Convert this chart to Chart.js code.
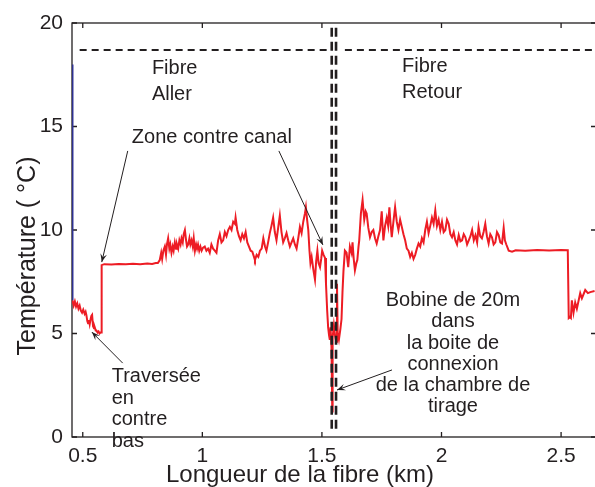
<!DOCTYPE html>
<html><head><meta charset="utf-8">
<script src="https://cdn.jsdelivr.net/npm/chart.js@4.4.0/dist/chart.umd.min.js"></script>
<style>
html,body{margin:0;padding:0;overflow:hidden;background:#fff;width:595px;height:487px}
#wrap{width:600px;height:487px}
</style>
</head><body><div id="wrap"><canvas id="c" width="600" height="487"></canvas></div>
<script>
// ---- data (distance along fibre in km, temperature in °C) ----
const fiberKm = [
 0.457,0.462,0.467,0.472,0.477,0.482,0.487,0.492,0.497,0.502,
 0.508,0.512,0.515,0.519,0.522,0.526,0.529,0.533,0.536,0.539,
 0.543,0.547,0.550,0.554,0.557,0.562,0.566,0.570,0.574,0.577,
 0.579,0.59,0.62,0.65,0.68,0.71,0.74,0.77,0.79,0.805,
 0.814,0.822,0.828,0.832,0.837,0.843,0.848,0.852,0.857,0.862,
 0.866,0.871,0.876,0.880,0.885,0.890,0.894,0.899,0.904,0.909,
 0.913,0.918,0.922,0.927,0.932,0.936,0.941,0.946,0.950,0.955,
 0.960,0.964,0.969,0.974,0.978,0.982,0.987,0.992,0.997,1.003,
 1.010,1.017,1.024,1.031,1.038,1.045,1.052,1.059,1.066,1.073,
 1.080,1.087,1.094,1.101,1.108,1.115,1.122,1.129,1.136,1.139,
 1.146,1.153,1.160,1.167,1.174,1.181,1.188,1.195,1.202,1.209,
 1.216,1.220,1.227,1.234,1.241,1.248,1.255,1.262,1.268,1.275,
 1.282,1.289,1.296,1.303,1.310,1.317,1.324,1.331,1.338,1.345,
 1.352,1.359,1.366,1.373,1.380,1.387,1.394,1.401,1.408,1.415,
 1.422,1.429,1.433,1.438,1.443,1.448,1.452,1.457,1.464,1.471,
 1.476,1.481,1.486,1.492,1.497,1.501,1.507,1.513,1.517,1.522,
 1.526,1.530,1.533,1.536,1.540,1.543,1.5435,1.546,1.550,1.555,
 1.560,1.563,1.566,1.571,1.577,1.582,1.586,1.590,1.596,1.603,
 1.610,1.617,1.624,1.628,1.633,1.638,1.644,1.648,1.653,1.656,
 1.663,1.670,1.677,1.683,1.687,1.694,1.701,1.708,1.715,1.722,
 1.729,1.736,
 1.743,1.750,1.757,1.764,1.771,1.777,1.782,1.787,1.792,1.799,
 1.806,1.813,1.820,1.827,1.834,1.841,1.848,1.855,1.862,1.869,
 1.876,1.883,1.890,1.897,1.904,1.911,1.918,1.925,1.932,1.939,
 1.946,1.953,1.960,1.967,1.974,1.981,1.988,1.995,2.002,2.009,
 2.016,2.023,2.030,2.037,2.044,2.051,2.058,2.065,2.072,2.079,
 2.086,2.093,2.100,2.107,2.114,2.121,2.128,2.135,2.142,2.149,
 2.155,2.162,2.169,2.176,2.183,2.190,2.197,2.204,2.211,2.218,
 2.225,2.232,2.239,2.246,2.253,2.260,2.265,2.271,2.281,2.295,
 2.31,2.35,2.40,2.45,2.50,2.528,2.532,2.537,2.541,2.545,
 2.552,2.559,2.566,2.580,2.587,2.601,2.612,2.622,2.64
];
const tempC = [
 6.6,6.35,6.55,6.3,6.45,6.2,6.35,6.1,6.0,6.15,
 5.95,6.05,5.9,5.6,5.5,5.65,5.45,5.7,5.85,5.9,
 5.35,5.25,5.3,5.15,5.15,5.05,5.1,5.0,5.05,5.05,
 8.3,8.35,8.33,8.36,8.34,8.37,8.35,8.38,8.36,8.4,
 8.4,8.55,8.9,8.6,9.0,9.2,8.8,9.3,9.6,9.1,
 9.3,8.9,9.2,9.0,9.4,9.1,9.3,9.1,9.5,9.3,
 9.6,9.4,9.8,10.0,9.5,9.2,9.3,9.6,9.3,9.5,
 9.2,9.6,9.0,9.3,9.1,9.3,9.0,9.2,9.0,9.15,
 9.2,9.0,9.1,8.9,9.3,9.1,9.0,8.9,9.5,9.8,
 9.4,9.5,9.9,9.7,10.0,10.15,10.0,10.4,10.3,10.6,
 10.0,9.7,9.5,9.8,9.6,9.9,9.4,9.2,9.0,8.95,
 8.7,8.55,8.8,8.7,9.0,9.1,9.6,9.2,9.0,9.4,
 9.85,10.2,10.6,9.9,9.5,10.1,10.7,9.9,9.4,9.6,
 9.85,9.5,9.2,9.4,9.6,9.3,9.1,9.6,10.15,9.85,
 10.4,10.8,11.1,10.5,10.0,9.0,8.4,8.7,8.1,7.6,
 8.5,9.0,8.4,8.2,8.6,9.0,8.8,8.65,7.4,6.1,
 5.3,4.9,4.7,5.3,4.35,1.45,1.4,4.8,5.4,4.9,
 4.6,7.4,5.0,4.7,5.2,5.7,7.0,8.0,9.0,8.9,
 8.2,9.2,8.9,9.4,8.6,8.05,8.4,8.55,9.2,9.5,
 10.8,11.45,10.5,10.9,10.8,10.1,9.65,9.9,10.0,9.6,
 9.35,9.7,
 10.0,10.9,9.5,10.2,10.6,10.2,11.1,10.3,9.65,10.4,
 11.1,10.4,10.0,10.5,10.15,9.8,9.5,9.1,9.0,8.7,
 8.9,8.6,8.8,9.1,9.35,9.2,9.6,9.4,10.0,10.4,
 9.85,10.2,10.6,10.3,10.95,10.2,10.5,10.0,10.4,9.9,
 10.0,10.5,10.3,9.8,9.65,9.9,9.5,9.3,9.75,9.45,
 9.5,9.8,9.65,9.3,9.5,9.7,10.0,9.5,9.75,9.4,
 10.15,9.7,9.6,9.9,10.3,9.7,9.35,9.8,9.65,9.3,
 9.4,9.9,9.75,9.4,9.35,10.1,9.5,9.3,9.0,8.95,
 9.02,9.0,9.03,9.01,9.03,9.02,5.75,5.8,5.75,6.6,
 6.0,6.5,6.2,6.95,6.7,7.1,6.95,7.0,7.05
];
const leadInKm = [0.457, 0.457];
const leadInC = [18.0, 6.6];
const xTicks = [0.5, 1, 1.5, 2, 2.5];
const yTicks = [0, 5, 10, 15, 20];
const markerLevelC = 18.7;
const allerSpanKm = [0.487, 1.525];
const retourSpanKm = [1.596, 2.66];
const spliceKm = [1.541, 1.559];
const spliceSpanC = [0.4, 19.8];

const notes = [
  {lines:['Fibre','Aller'], km:0.789, c:17.54, lh:26, align:'left'},
  {lines:['Fibre','Retour'], km:1.835, c:17.63, lh:26, align:'left'},
  {lines:['Zone contre canal'], km:0.705, c:14.2, lh:22, align:'left'},
  {lines:['Traversée','en','contre','bas'], km:0.621, c:2.66, lh:21.7, align:'left'},
  {lines:['Bobine de 20m','dans','la boite de','connexion','de la chambre de','tirage'], km:2.048, c:6.33, lh:21.3, align:'center'}
];
const arrows = [
  {from:[0.688,13.82], to:[0.5795,8.45]},
  {from:[1.320,13.82], to:[1.504,9.28]},
  {from:[0.667,3.57], to:[0.538,5.07]},
  {from:[1.793,3.24], to:[1.563,2.27]}
];

const ink = '#231f20';
const FONT = '"Liberation Sans", Arial, Helvetica, sans-serif';
const pts = (xs, ys) => xs.map((v, i) => ({x: v, y: ys[i]}));

const framePlugin = {
  id: 'frame',
  beforeDatasetsDraw(chart) {
    const {ctx, chartArea: a, scales: {x, y}} = chart;
    ctx.save();
    ctx.strokeStyle = ink; ctx.lineWidth = 1.3;
    ctx.strokeRect(a.left, a.top, a.right - a.left, a.bottom - a.top);
    ctx.beginPath();
    x.ticks.forEach(t => { const p = x.getPixelForValue(t.value);
      ctx.moveTo(p, a.bottom); ctx.lineTo(p, a.bottom - 5);
      ctx.moveTo(p, a.top); ctx.lineTo(p, a.top + 5); });
    y.ticks.forEach(t => { const p = y.getPixelForValue(t.value);
      ctx.moveTo(a.left, p); ctx.lineTo(a.left + 5, p);
      ctx.moveTo(a.right, p); ctx.lineTo(a.right - 5, p); });
    ctx.stroke();
    ctx.restore();
  },
  afterDatasetsDraw(chart) {
    const {ctx, scales: {x, y}} = chart;
    ctx.save();
    ctx.fillStyle = ink;
    ctx.font = '20px ' + FONT;
    ctx.textBaseline = 'alphabetic';
    notes.forEach(n => {
      const px = x.getPixelForValue(n.km), py = y.getPixelForValue(n.c);
      ctx.textAlign = n.align;
      n.lines.forEach((s, i) => ctx.fillText(s, px, py + i * n.lh));
    });
    ctx.strokeStyle = ink; ctx.lineWidth = 1;
    arrows.forEach(a => {
      const x0 = x.getPixelForValue(a.from[0]), y0 = y.getPixelForValue(a.from[1]);
      const x1 = x.getPixelForValue(a.to[0]), y1 = y.getPixelForValue(a.to[1]);
      const ang = Math.atan2(y1 - y0, x1 - x0);
      ctx.beginPath(); ctx.moveTo(x0, y0); ctx.lineTo(x1, y1); ctx.stroke();
      const L = 9, W = 0.38;
      ctx.beginPath();
      ctx.moveTo(x1, y1);
      ctx.lineTo(x1 - L * Math.cos(ang - W), y1 - L * Math.sin(ang - W));
      ctx.lineTo(x1 - 0.55 * L * Math.cos(ang), y1 - 0.55 * L * Math.sin(ang));
      ctx.lineTo(x1 - L * Math.cos(ang + W), y1 - L * Math.sin(ang + W));
      ctx.closePath(); ctx.fill();
    });
    // axis titles
    ctx.font = '24px ' + FONT;
    ctx.textAlign = 'center';
    ctx.fillText('Longueur de la fibre (km)', 300, 482);
    ctx.font = '25px ' + FONT;
    ctx.translate(35, 256);
    ctx.rotate(-Math.PI / 2);
    ctx.fillText('Température ( °C)', 0, 0);
    ctx.restore();
  }
};

new Chart(document.getElementById('c'), {
  type: 'scatter',
  data: {
    datasets: [
      {data: pts(spliceKm.slice(0,1).concat(spliceKm.slice(0,1)), spliceSpanC), showLine: true, borderColor: ink, borderWidth: 2.6, borderDash: [9, 5], order: 0},
      {data: pts(spliceKm.slice(1).concat(spliceKm.slice(1)), spliceSpanC), showLine: true, borderColor: ink, borderWidth: 2.6, borderDash: [9, 5], order: 0},
      {data: pts(allerSpanKm, [markerLevelC, markerLevelC]), showLine: true, borderColor: ink, borderWidth: 2, borderDash: [7, 5], order: 0},
      {data: pts(retourSpanKm, [markerLevelC, markerLevelC]), showLine: true, borderColor: ink, borderWidth: 2, borderDash: [7, 5], order: 0},
      {data: pts(fiberKm, tempC), showLine: true, borderColor: '#ed1c24', borderWidth: 2, order: 1},
      {data: pts(leadInKm, leadInC), showLine: true, borderColor: '#2e3192', borderWidth: 2, order: 2}
    ]
  },
  options: {
    responsive: false, animation: false,
    layout: {padding: {top: 23, right: 4, left: 0, bottom: 0}},
    plugins: {legend: {display: false}, tooltip: {enabled: false}},
    elements: {point: {radius: 0, hoverRadius: 0}, line: {tension: 0}},
    scales: {
      x: {
        type: 'linear', min: 0.455, max: 2.646,
        afterBuildTicks: s => { s.ticks = xTicks.map(v => ({value: v})); },
        afterFit: s => { s.height = 50; },
        grid: {display: false, drawTicks: false}, border: {display: false},
        ticks: {font: {family: FONT, size: 21}, color: ink, padding: 7, maxRotation: 0, autoSkip: false, callback: v => String(v)}
      },
      y: {
        type: 'linear', min: 0, max: 20,
        afterBuildTicks: s => { s.ticks = yTicks.map(v => ({value: v})); },
        afterFit: s => { s.width = 72; },
        grid: {display: false, drawTicks: false}, border: {display: false},
        ticks: {font: {family: FONT, size: 21}, color: ink, padding: 9, autoSkip: false, callback: v => String(v)}
      }
    }
  },
  plugins: [framePlugin]
});
</script>
</body></html>
